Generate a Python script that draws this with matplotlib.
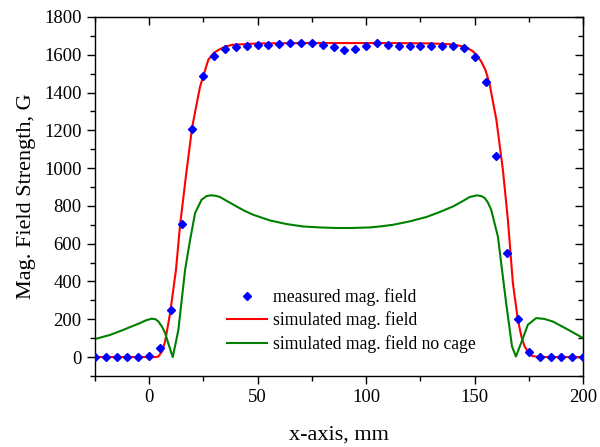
import numpy as np
import matplotlib
matplotlib.use('Agg')
import matplotlib.pyplot as plt

plt.rcParams['font.family'] = ['Liberation Serif', 'DejaVu Serif']

# mesures (pas de 5 mm)
x_mes = [-25, -20, -15, -10, -5, 0, 5, 10, 15, 20, 25, 30, 35, 40, 45, 50, 55, 60, 65,
         70, 75, 80, 85, 90, 95, 100, 105, 110, 115, 120, 125, 130, 135, 140, 145,
         150, 155, 160, 165, 170, 175, 180, 185, 190, 195, 200]
b_mes = [0, 0, 0, 0, 0, 8, 47, 250, 702, 1208, 1489, 1591, 1630, 1643, 1648, 1652, 1653,
         1656, 1660, 1660, 1660, 1653, 1641, 1623, 1630, 1648, 1660, 1653, 1648, 1645,
         1645, 1645, 1645, 1645, 1635, 1588, 1454, 1066, 551, 201, 28, 0, 0, 0, 0, 0]

# simulation avec cage
x_sim = [-25, 0, 3, 4.3, 6, 7.4, 9.7, 12.4, 14.3, 17, 19.9, 23.5, 27.3, 30, 32.7, 35.5,
         38.7, 50, 70, 90, 110, 130, 140, 144.6, 147, 149.2, 151, 153, 155, 156.8, 160,
         163, 165.3, 167.6, 169.9, 171.5, 173, 175, 176.6, 180, 200]
b_sim = [0, 0, 0, 3, 30, 83, 233, 462, 700, 960, 1220, 1432, 1574, 1612, 1630, 1645,
         1653, 1660, 1662, 1662, 1662, 1660, 1655, 1644, 1634, 1618, 1597, 1565, 1518,
         1450, 1256, 991, 727, 392, 197, 110, 56, 20, 5, 0, 0]

# simulation sans cage
x_nc = [-25, -18, -11.8, -8, -4.1, -1.5, 1.2, 3, 4.3, 6, 7.4, 9.2, 10.9, 12.2, 13.5,
        16.6, 18.9, 21.2, 24.2, 26.5, 28.4, 30.5, 32.7, 36, 40.3, 44, 48, 55.7, 63.3, 71,
        78.7, 86.3, 93, 101.7, 107, 112.4, 120, 127.7, 134, 140, 144, 147.7, 151, 153,
        154.6, 156, 157.6, 160.7, 164.5, 167.2, 169, 171.4, 174.5, 178.3, 182, 186, 193, 200]
b_nc = [95, 117, 144, 162, 180, 194, 203, 200, 188, 160, 127, 60, 0, 70, 144, 462, 620,
        762, 833, 852, 856, 854, 847, 825, 797, 774, 753, 723, 704, 691, 686, 683, 683,
        686, 692, 700, 718, 741, 768, 797, 822, 847, 856, 852, 842, 820, 780, 638, 286,
        56, 3, 74, 171, 206, 202, 188, 145, 100]

fig = plt.figure(figsize=(6, 4.47), dpi=100)
ax = fig.add_axes([0.158, 0.159, 0.814, 0.803])

ax.plot(x_mes, b_mes, 'D', color='#0000ff', markersize=4.5, label='measured mag. field', zorder=3)
ax.plot(x_sim, b_sim, '-', color='#ff0000', lw=1.5, label='simulated mag. field')
ax.plot(x_nc, b_nc, '-', color='#008000', lw=1.5, label='simulated mag. field no cage')

ax.set_xlim(-25, 200)
ax.set_ylim(-100, 1800)
ax.set_xticks([0, 50, 100, 150, 200])
ax.set_xticks(np.arange(-25, 201, 25), minor=True)
ax.set_yticks(np.arange(0, 1801, 200))
ax.set_yticks(np.arange(-100, 1801, 100), minor=True)
ax.tick_params(which='both', direction='out', top=False, right=False, labelsize=13.5, width=1)
ax.tick_params(which='major', length=6)
ax.tick_params(which='minor', length=3.5)
ax2 = ax.secondary_xaxis('top')
ax2.set_xticks([0, 50, 100, 150, 200])
ax2.set_xticks(np.arange(-25, 201, 25), minor=True)
ax2.tick_params(which='both', direction='in', labeltop=False, width=1)
ax2.tick_params(which='major', length=6)
ax2.tick_params(which='minor', length=3.5)
ay2 = ax.secondary_yaxis('right')
ay2.set_yticks(np.arange(0, 1801, 200))
ay2.set_yticks(np.arange(-100, 1801, 100), minor=True)
ay2.tick_params(which='both', direction='in', labelright=False, width=1)
ay2.tick_params(which='major', length=6)
ay2.tick_params(which='minor', length=3.5)
for s in ax.spines.values():
    s.set_linewidth(1)

ax.set_xlabel('x-axis, mm', fontsize=16, labelpad=14)
ax.set_ylabel('Mag. Field Strength, G', fontsize=16, labelpad=6)

ax.legend(loc='lower left', bbox_to_anchor=(0.245, 0.03), frameon=False, fontsize=12.7,
          handlelength=2.3, handletextpad=0.3, labelspacing=0.32, borderpad=0.2)

plt.savefig('out.png', dpi=100)
